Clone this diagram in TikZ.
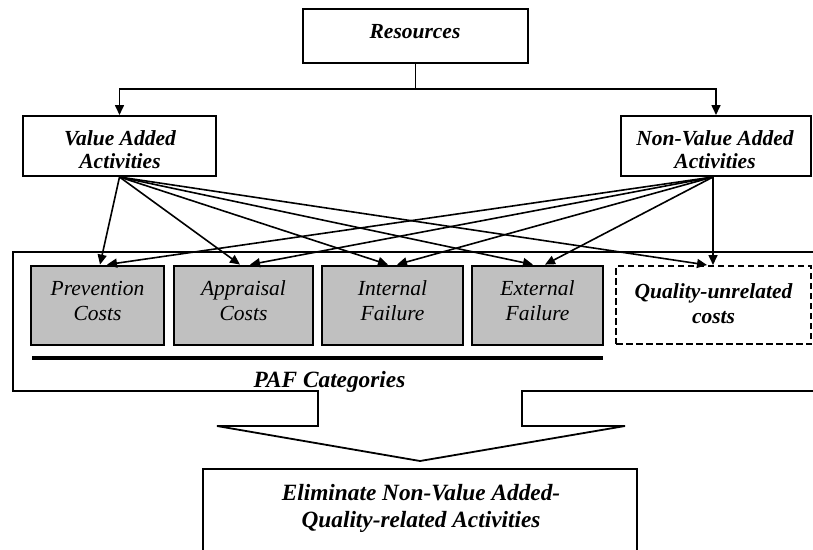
\documentclass[tikz,border=0pt]{standalone}
\usepackage{fontspec}
\setmainfont{Liberation Serif}
\usetikzlibrary{arrows.meta}
\definecolor{catgray}{RGB}{192,192,192}

\begin{document}
\begin{tikzpicture}[x=1pt,y=-1pt,
  box/.style={draw, line width=2pt, inner sep=0pt},
  catbox/.style={draw, line width=2.8pt, fill=catgray, inner sep=0pt, minimum height=79pt},
  dashbox/.style={draw, line width=2pt, dash pattern=on 6.5pt off 3.5pt, inner sep=0pt},
  txt/.style={anchor=base, inner sep=0pt, font=\fontsize{21.5}{23}\selectfont\bfseries\itshape},
  cattxt/.style={anchor=base, inner sep=0pt, font=\fontsize{21.5}{23}\selectfont\itshape},
  bigtxt/.style={anchor=base, inner sep=0pt, font=\fontsize{23.3}{27}\selectfont\bfseries\itshape},
  wire/.style={line width=1.8pt},
  link/.style={line width=1.6pt, -{Triangle[length=10pt,width=9pt]}},
]
\useasboundingbox (0,0) rectangle (813,549);
\clip (0,0) rectangle (813,549);

% top level boxes
\node[box, minimum width=225pt, minimum height=54pt] (res) at (415.5,36) {};
\node[box, minimum width=193pt, minimum height=60pt] (va)  at (119.5,146) {};
\node[box, minimum width=190pt, minimum height=60pt] (nva) at (716,146) {};

\node[txt] (restxt) at (415,38) {Resources};
\node[txt] (vatxta) at (120,145) {Value Added};
\node[txt] (vatxtb) at (120,168) {Activities};
\node[txt] (nvatxta) at (715,145) {Non-Value Added};
\node[txt] (nvatxtb) at (715,168) {Activities};

% split from resources into the two activity kinds
\draw[wire] (res.south) -- ++(0,25) coordinate (split);
\draw[link] (split) -| (va.north);
\draw[link] (split) -| (nva.north);

% PAF frame with the block arrow pointing down
\draw[wire] (830,252) -- (13,252) -- (13,391) -- (318,391) -- (318,426)
  -- (217,426) -- (420,461) -- (625,426) -- (522,426) -- (522,391) -- (830,391);

% cost categories
\node[catbox, minimum width=133pt] (prev) at (97.5,305.5) {};
\node[catbox, minimum width=139pt] (appr) at (243.5,305.5) {};
\node[catbox, minimum width=141pt] (intf) at (392.5,305.5) {};
\node[catbox, minimum width=131pt] (extf) at (537.5,305.5) {};
\node[dashbox, minimum width=195pt, minimum height=78pt] (qun) at (713.5,305) {};

\node[cattxt] (prevta) at (97.5,295) {Prevention};
\node[cattxt] (prevtb) at (97.5,320) {Costs};
\node[cattxt] (apprta) at (243.5,295) {Appraisal};
\node[cattxt] (apprtb) at (243.5,320) {Costs};
\node[cattxt] (intfta) at (392.5,295) {Internal};
\node[cattxt] (intftb) at (392.5,320) {Failure};
\node[cattxt] (extfta) at (537.5,295) {External};
\node[cattxt] (extftb) at (537.5,320) {Failure};
\node[txt] (qunta) at (713.5,298) {Quality-unrelated};
\node[txt] (quntb) at (713.5,323) {costs};

% underline of the PAF group and its caption
\draw[line width=3.2pt] (32,358) -- (603,358);
\node[bigtxt] (paf) at (329.5,387) {PAF Categories};

% links from value added activities
\draw[link] (va.south) -- ([xshift=2.5pt]prev.north);
\draw[link] (va.south) -- ([xshift=-3.5pt]appr.north);
\draw[link] (va.south) -- ([xshift=-4.5pt]intf.north);
\draw[link] (va.south) -- ([xshift=-4.5pt]extf.north);
\draw[link] (va.south) -- ([xshift=-6.5pt]qun.north);

% links from non-value added activities
\coordinate (nvaout) at ([xshift=-3pt]nva.south);
\draw[link] (nvaout) -- ([xshift=9.5pt]prev.north);
\draw[link] (nvaout) -- ([xshift=6.5pt]appr.north);
\draw[link] (nvaout) -- ([xshift=4.5pt]intf.north);
\draw[link] (nvaout) -- ([xshift=7.5pt]extf.north);
\draw[link] (nvaout) -- ([xshift=-0.5pt]qun.north);

% outcome
\node[box, minimum width=434pt, minimum height=110pt] (elim) at (420,524) {};
\node[bigtxt] (elimta) at (421,500) {Eliminate Non-Value Added-};
\node[bigtxt] (elimtb) at (421,527) {Quality-related Activities};
\end{tikzpicture}
\end{document}
